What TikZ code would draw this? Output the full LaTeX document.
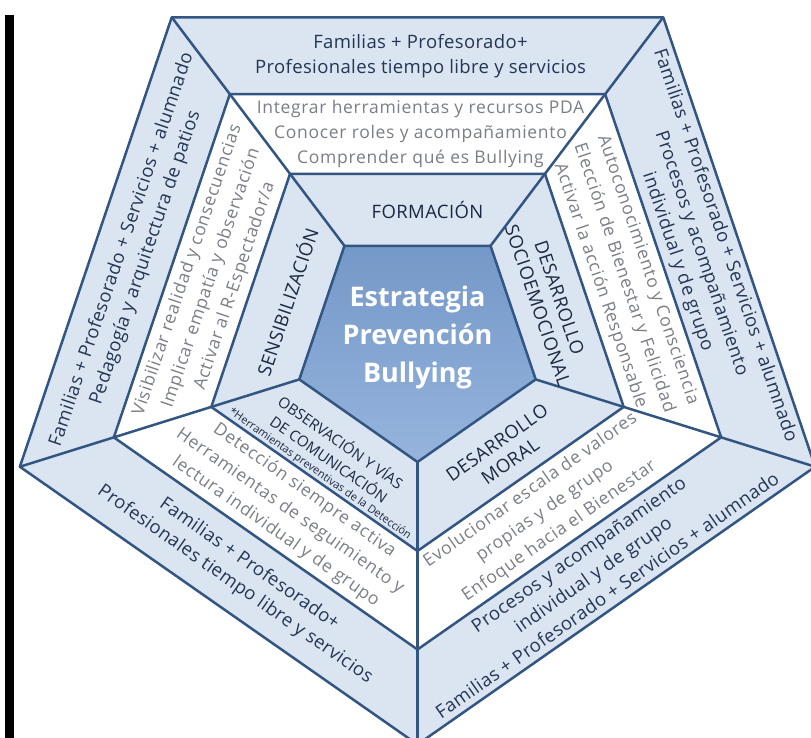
\documentclass[tikz,border=0pt]{standalone}
\usepackage{fontspec}
\setmainfont{Open Sans}
\usetikzlibrary{calc}
\definecolor{lineblue}{RGB}{50,85,130}
\definecolor{bandblue}{RGB}{219,229,241}
\definecolor{coretop}{RGB}{116,152,200}
\definecolor{corebot}{RGB}{150,180,221}
\definecolor{outertext}{RGB}{36,54,84}
\definecolor{graytext}{RGB}{122,126,134}
\definecolor{labeltext}{RGB}{28,40,64}
\begin{document}
\begin{tikzpicture}[x=1pt,y=1pt,
  outertxt/.style={text=outertext, font=\fontsize{18.5}{25}\selectfont\addfontfeatures{LetterSpace=2}, align=center, inner sep=0pt},
  graytxt/.style={text=graytext, font=\fontsize{17.5}{25}\selectfont\addfontfeatures{LetterSpace=4}, align=center, inner sep=0pt},
  labeltxt/.style={text=labeltext, font=\fontsize{18.5}{23}\selectfont\addfontfeatures{LetterSpace=2}, align=center, inner sep=0pt},
  obstxt/.style={text=labeltext, font=\fontsize{15}{20.5}\selectfont, align=center, inner sep=0pt},
  smalltxt/.style={text=labeltext, font=\fontsize{11}{12}\selectfont, inner sep=0pt},
  coretxt/.style={text=white, font=\fontsize{27}{38}\bfseries\selectfont, align=center, inner sep=0pt},
  ringline/.style={draw=lineblue, line width=2.5pt, line join=round},
]
\useasboundingbox (-417.5,342.5) rectangle (393.5,-395.5);
\clip (-417.5,342.5) rectangle (393.5,-395.5);
\fill[white] (-417.5,342.5) rectangle (393.5,-395.5);
\fill[black] (-412.5,327.5) rectangle (-403.5,-395.5);
% vertices
\foreach \n/\R in {O/402, M/307, N/208.5, I/119.5} {
  \foreach \k/\a in {1/54, 2/126, 3/198, 4/270, 5/342} {
    \coordinate (\n\k) at ({1.04*\R*cos(\a)}, {\R*sin(\a)});
  }
}
\fill[bandblue] (O1)--(O2)--(O3)--(O4)--(O5)--cycle;
\fill[white] (M1)--(M2)--(M3)--(M4)--(M5)--cycle;
\fill[bandblue] (N1)--(N2)--(N3)--(N4)--(N5)--cycle;
\shade[top color=coretop, bottom color=corebot] (I1)--(I2)--(I3)--(I4)--(I5)--cycle;
\foreach \n in {O,M,N,I} \draw[ringline] (\n1)--(\n2)--(\n3)--(\n4)--(\n5)--cycle;
\foreach \k in {1,...,5} \draw[ringline] (I\k)--(O\k);
% outer band
\node[outertxt] (otop) at (3,286.8) {Familias + Profesorado+\\Profesionales tiempo libre y servicios};
\node[outertxt, rotate=71.3] (oul) at ({1.04*286.8*cos(162)},{286.8*sin(162)}) {Familias + Profesorado + Servicios + alumnado\\Pedagogía y arquitectura de patios};
\node[outertxt, rotate=-71.3] (our) at ({1.04*286.8*cos(18)},{286.8*sin(18)}) {Familias + Profesorado + Servicios + alumnado\\Procesos y acompañamiento\\individual y de grupo};
\node[outertxt, rotate=-35] (oll) at ({1.04*286.8*cos(234)},{286.8*sin(234)}) {Familias + Profesorado+\\Profesionales tiempo libre y servicios};
\node[outertxt, rotate=35] (olr) at ({1.04*286.8*cos(306)},{286.8*sin(306)}) {Procesos y acompañamiento\\individual y de grupo\\Familias + Profesorado + Servicios + alumnado};
% white band
\node[graytxt] (wtop) at (3,208.5) {Integrar herramientas y recursos PDA\\Conocer roles y acompañamiento\\Comprender qué es Bullying};
\node[graytxt, rotate=71.3] (wul) at ({1.04*208.5*cos(162)},{208.5*sin(162)}) {Visibilizar realidad y consecuencias\\Implicar empatía y observación\\Activar al R-Espectador/a};
\node[graytxt, rotate=-71.3] (wur) at ({1.04*208.5*cos(18)},{208.5*sin(18)}) {Autoconocimiento y Consciencia\\Elección de Bienestar y Felicidad\\Activar la acción Responsable};
\node[graytxt, rotate=-35] (wll) at ({1.04*208.5*cos(234)},{208.5*sin(234)}) {Detección siempre activa\\Herramientas de seguimiento y\\lectura individual y de grupo};
\node[graytxt, rotate=35] (wlr) at ({1.04*208.5*cos(306)},{208.5*sin(306)}) {Evolucionar escala de valores\\propias y de grupo\\Enfoque hacia el Bienestar};
% inner light band
\node[labeltxt] (ltop) at (10,132.7) {FORMACIÓN};
\node[labeltxt, rotate=71.3] (lul) at ({1.04*132.7*cos(162)},{132.7*sin(162)}) {SENSIBILIZACIÓN};
\node[labeltxt, rotate=-71.3] (lur) at ({1.04*132.7*cos(18)},{132.7*sin(18)}) {DESARROLLO\\SOCIOEMOCIONAL};
\node[obstxt, rotate=-35] (lll) at (-82,-107.5) {OBSERVACIÓN Y VÍAS\\DE COMUNICACIÓN};
\node[smalltxt, rotate=-35] (lsm) at (-97.5,-131.5) {*Herramientas preventivas de la Detección};
\node[labeltxt, rotate=35] (llr) at (86,-109.5) {DESARROLLO\\MORAL};
% core
\node[coretxt] (core) at (0,5) {Estrategia\\Prevención\\Bullying};
\end{tikzpicture}
\end{document}
